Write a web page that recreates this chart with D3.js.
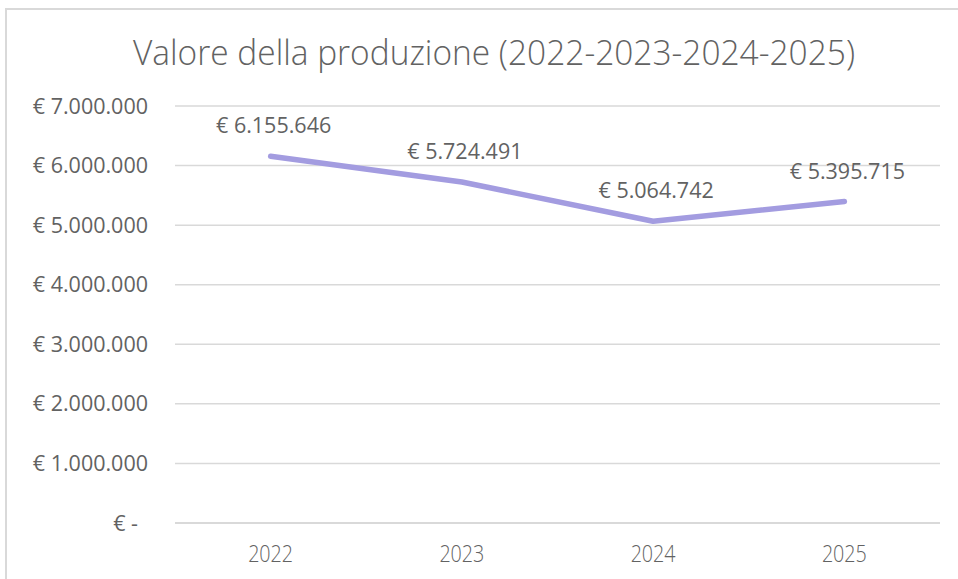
<!DOCTYPE html>
<html>
<head>
<meta charset="utf-8">
<script src="https://cdn.jsdelivr.net/npm/d3@7"></script>
<style>
  body { margin: 0; background: #fff; }
  text { font-family: "Open Sans", sans-serif; fill: #626262; }
</style>
</head>
<body>
<svg id="chart" width="958" height="579"></svg>
<script>
var years = ["2022", "2023", "2024", "2025"];
var values = [6155646, 5724491, 5064742, 5395715];
var yTicks = [0, 1000000, 2000000, 3000000, 4000000, 5000000, 6000000, 7000000];
var title = "Valore della produzione (2022-2023-2024-2025)";

var svg = d3.select("#chart");
var width = +svg.attr("width"),
    height = +svg.attr("height");
var margin = { top: 106, right: 18, bottom: 56, left: 175 };

// chart frame (only left/top edges visible in the shot)
svg.append("rect")
  .attr("x", 6).attr("y", 9)
  .attr("width", width + 10).attr("height", height + 10)
  .attr("fill", "#fff")
  .attr("stroke", "#d9d9d9")
  .attr("stroke-width", 2);

var x = d3.scaleBand()
  .domain(years)
  .range([margin.left, width - margin.right]);

var y = d3.scaleLinear()
  .domain([0, 7000000])
  .range([height - margin.bottom, margin.top]);

var it = d3.format(",.0f");
function euro(v) {
  return v === 0 ? "€ -" : "€ " + it(v).replace(/,/g, ".");
}

// gridlines
svg.append("g")
  .selectAll("line")
  .data(yTicks)
  .enter().append("line")
    .attr("x1", margin.left)
    .attr("x2", width - margin.right)
    .attr("y1", function(d) { return y(d); })
    .attr("y2", function(d) { return y(d); })
    .attr("stroke", "#d9d9d9")
    .attr("stroke-width", function(d) { return d === 0 ? 2 : 1.5; });

// y labels
svg.append("g")
  .selectAll("text")
  .data(yTicks)
  .enter().append("text")
    .attr("x", function(d) { return d === 0 ? 138 : 148; })
    .attr("y", function(d) { return y(d); })
    .attr("dy", "0.35em")
    .attr("text-anchor", "end")
    .attr("font-size", 21.5)
    .text(euro);

// x labels (narrow face in the original)
svg.append("g")
  .selectAll("text")
  .data(years)
  .enter().append("text")
    .attr("x", function(d) { return x(d) + x.bandwidth() / 2; })
    .attr("y", 562)
    .attr("text-anchor", "middle")
    .attr("font-size", 23)
    .attr("font-weight", 300)
    .attr("textLength", 45)
    .attr("lengthAdjust", "spacingAndGlyphs")
    .text(function(d) { return d; });

// line
var pts = years.map(function(d, i) { return { year: d, value: values[i] }; });
var line = d3.line()
  .x(function(d) { return x(d.year) + x.bandwidth() / 2; })
  .y(function(d) { return y(d.value); });

svg.append("path")
  .datum(pts)
  .attr("d", line)
  .attr("fill", "none")
  .attr("stroke", "#a39ce0")
  .attr("stroke-width", 5.5)
  .attr("stroke-linecap", "round")
  .attr("stroke-linejoin", "round");

// data labels
svg.append("g")
  .selectAll("text")
  .data(pts)
  .enter().append("text")
    .attr("x", function(d) { return x(d.year) + x.bandwidth() / 2 + 3; })
    .attr("y", function(d) { return y(d.value) - 23; })
    .attr("text-anchor", "middle")
    .attr("font-size", 21.5)
    .text(function(d) { return euro(d.value); });

// title
svg.append("text")
  .attr("x", 494)
  .attr("y", 65)
  .attr("text-anchor", "middle")
  .attr("font-size", 35)
  .attr("font-weight", 300)
  .attr("textLength", 722)
  .attr("lengthAdjust", "spacingAndGlyphs")
  .text(title);
</script>
</body>
</html>
